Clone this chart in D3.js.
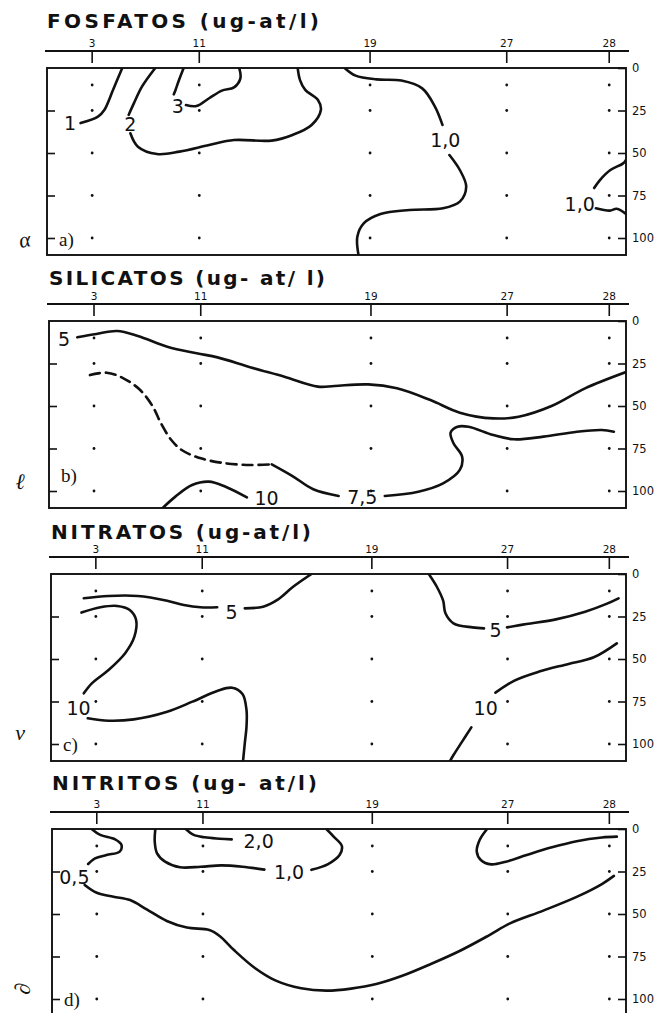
<!DOCTYPE html>
<html>
<head>
<meta charset="utf-8">
<script src="https://cdn.jsdelivr.net/npm/d3@7"></script>
<style>
  body { margin: 0; background: #fff; }
  svg { display: block; }
</style>
</head>
<body>
<svg id="chart" width="657" height="1013"></svg>
<script>
// Stations along the section and their position (relative distance, 0-100)
const stations = ["3", "11", "19", "27", "28"];
const stationDist = [7.8, 26.3, 55.8, 79.4, 97.1];
// Depth axis (m) and sampling depths
const depthTicks = [0, 25, 50, 75, 100];
const sampleDepths = [10, 25, 50, 75, 100];

const titles = ["FOSFATOS (ug-at/l)", "SILICATOS (ug- at/ l)", "NITRATOS (ug-at/l)", "NITRITOS (ug- at/l)"];
const panelTags = ["a)", "b)", "c)", "d)"];
const marginNotes = ["α", "ℓ", "ν", "∂"];

// Isolines: each entry is a list of segments of [distance, depth] points
const fosfatosLines = [
  { dashed: false, segments: [[[13.0, 0], [11.4, 12.9], [9.9, 24.7], [8.8, 28.6], [5.8, 32.4]]] },
  { dashed: false, segments: [
    [[18.7, 0], [16.4, 11], [15.0, 20.8], [14.1, 27.6]],
    [[14.4, 38.4], [15.7, 46.3], [19.0, 50.6], [22.9, 49.2], [28.0, 45.3], [32.3, 42.4], [38.8, 42.7],
     [42.4, 39.4], [45.7, 33.5], [47.3, 24.7], [46.8, 18.8], [44.6, 12.9], [43.7, 7.1], [43.3, 0]]] },
  { dashed: false, segments: [
    [[23.6, 0], [22.8, 7.1], [22.2, 12.9], [21.9, 15.5]],
    [[24.0, 21.8], [25.8, 22.4], [28.0, 17.8], [30.2, 13.3], [32.3, 11.4], [33.4, 6.1], [33.2, 0]]] },
  { dashed: false, segments: [
    [[51.4, 0], [53.3, 4.5], [56.9, 6.7], [61.2, 7.4], [64.8, 12.0], [67.0, 22.7], [68.3, 33.5]],
    [[69.5, 51.2], [71.3, 60.0], [72.4, 69.8], [71.3, 78.6], [68.4, 82.5], [62.6, 83.5], [57.6, 85.9],
     [54.7, 91.4], [53.6, 99.2], [53.8, 110]]] },
  { dashed: false, segments: [
    [[100, 54], [99.5, 56.1], [97.3, 60], [95.5, 65.9], [94.5, 70.6]],
    [[94.8, 82.5], [97.2, 83.9], [98.4, 82.8], [100, 85.9]]] }
];
const fosfatosLabels = [
  { text: "1", at: [4.0, 32.5] },
  { text: "2", at: [14.4, 33.0] },
  { text: "3", at: [22.6, 22.5] },
  { text: "1,0", at: [68.8, 42.4] },
  { text: "1,0", at: [92.0, 80.0] }
];

const silicatosLines = [
  { dashed: false, segments: [[[4.9, 9.6], [8.2, 7.6], [11.8, 5.9], [15.4, 8.8], [20.5, 15.1], [25.6, 19.0],
    [29.2, 21.4], [35.0, 27.3], [40.8, 32.8], [46.6, 38.6], [49.5, 38.2], [55.3, 37.3], [60.3, 39.6],
    [66.1, 46.5], [71.2, 53.9], [77.0, 57.3], [81.4, 56.3], [87.1, 50.0], [92.9, 39.6], [100, 30]]] },
  { dashed: true, segments: [[[7.1, 31.8], [10.0, 30.4], [12.9, 33.7], [15.8, 40.6], [18.0, 50.4], [19.4, 60.2],
    [21.2, 70.0], [23.0, 75.9], [26.3, 80.8], [30.6, 83.7], [35.0, 84.7], [38.6, 84.3]]] },
  { dashed: false, segments: [
    [[38.6, 84.3], [42.2, 91.2], [45.8, 99.0], [50.2, 102.9]],
    [[58.2, 102.9], [64.0, 100.4], [68.3, 95.5], [71.2, 87.6], [71.6, 79.8], [70.1, 71.9], [69.6, 65.7],
     [70.8, 62.2], [72.7, 62.2], [77.0, 67.1], [80.6, 69.6], [85.7, 68.0], [91.5, 65.1], [95.8, 64.1], [97.9, 65.1]]] },
  { dashed: false, segments: [[[19.4, 111], [21.9, 103.3], [24.8, 96.5], [27.7, 94.5], [30.6, 97.5], [34.3, 103.8]]] }
];
const silicatosLabels = [
  { text: "5", at: [2.6, 10.5] },
  { text: "7,5", at: [54.3, 103.7] },
  { text: "10", at: [37.7, 104.0] }
];

const nitratosLines = [
  { dashed: false, segments: [
    [[5.7, 14.3], [10.0, 12.9], [15.1, 12.9], [20.2, 15.7], [23.1, 18.2], [26.0, 19.6], [28.9, 19.6]],
    [[33.7, 20.2], [36.9, 19.2], [39.5, 14.9], [42.0, 7.8], [45.3, 0]]] },
  { dashed: false, segments: [
    [[65.7, 0], [67.1, 7.5], [68.2, 15.7], [68.6, 23.1], [70.0, 29.0], [73.3, 31.4], [75.3, 32.0]],
    [[79.3, 31.4], [82.7, 29.4], [87.8, 26.7], [92.9, 22.2], [96.6, 17.6], [98.7, 14.3]]] },
  { dashed: false, segments: [
    [[5.3, 22.7], [8.6, 19.6], [11.5, 18.8], [13.7, 21.2], [14.8, 27.1], [14.5, 36.9], [12.9, 46.6],
     [10.0, 56.5], [7.1, 64.3], [5.7, 70.2]],
    [[6.4, 84.9], [10.0, 86.3], [14.4, 85.5], [20.2, 81.0], [24.6, 75.1], [28.9, 68.8], [31.5, 66.9],
     [33.3, 70.6], [34.0, 80.0], [34.0, 89.8], [33.7, 99.6], [33.4, 110]]] },
  { dashed: false, segments: [
    [[69.4, 110], [70.0, 106.5], [71.5, 98.6], [73.1, 90.2]],
    [[77.3, 69.8], [80.6, 62.7], [84.9, 57.4], [90.0, 52.9], [94.4, 49.0], [98.4, 40.8]]] }
];
const nitratosLabels = [
  { text: "5", at: [31.4, 22.2] },
  { text: "5", at: [77.3, 32.8] },
  { text: "10", at: [4.8, 79.0] },
  { text: "10", at: [75.6, 79.0] }
];

const nitritosLines = [
  { dashed: false, segments: [
    [[6.9, 0], [8.4, 3.5], [11.0, 6.1], [12.1, 9.4], [11.8, 13.3], [9.5, 15.3], [7.5, 17.3], [6.3, 20.6]],
    [[5.7, 32.9], [7.8, 37.5], [10.7, 39.8], [13.6, 41.8], [16.5, 47.3], [20.0, 54.1], [23.5, 58.0],
     [27.4, 59.4], [29.2, 62.9], [31.7, 71.2], [35.4, 81.9], [39.0, 89.2], [43.4, 93.7], [47.8, 95.1],
     [52.1, 93.9], [56.5, 91.2], [60.9, 86.5], [66.0, 79.4], [71.1, 71.6], [76.2, 62.4], [79.8, 55.5],
     [85.6, 48.0], [91.5, 39.8], [95.8, 32.4], [97.9, 27.6]]] },
  { dashed: false, segments: [
    [[18.0, 0], [17.9, 7.5], [18.3, 14.3], [19.7, 19.2], [22.3, 22.5], [25.9, 22.2], [29.5, 21.4],
     [33.2, 22.2], [37.0, 23.9]],
    [[45.2, 24.0], [48.1, 20.6], [50.1, 15.3], [50.5, 10.0], [49.2, 4.9], [47.8, 0]]] },
  { dashed: false, segments: [[[23.3, 0], [24.6, 3.3], [26.6, 4.9], [29.2, 5.7], [31.3, 6.1]]] },
  { dashed: false, segments: [[[75.8, 0], [74.5, 6.5], [74.0, 13.3], [74.7, 18.2], [76.5, 20.8], [79.1, 19.2],
    [82.7, 15.3], [87.1, 10.8], [91.4, 7.2], [95.8, 5.0], [98.4, 4.5]]] }
];
const nitritosLabels = [
  { text: "0,5", at: [3.9, 28.5] },
  { text: "1,0", at: [41.3, 25.1] },
  { text: "2,0", at: [36.0, 6.8] }
];

const panels = [
  { title: titles[0], tag: panelTags[0], note: marginNotes[0], lines: fosfatosLines, labels: fosfatosLabels },
  { title: titles[1], tag: panelTags[1], note: marginNotes[1], lines: silicatosLines, labels: silicatosLabels },
  { title: titles[2], tag: panelTags[2], note: marginNotes[2], lines: nitratosLines, labels: nitratosLabels },
  { title: titles[3], tag: panelTags[3], note: marginNotes[3], lines: nitritosLines, labels: nitritosLabels }
];

// Page layout of the four stacked sections
const layout = [
  { top: 68,  left: 47, titleY: 28,  titleLen: 272, tagDepth: 101, noteX: 26, noteY: 247, noteRot: -10 },
  { top: 321, left: 49, titleY: 285, titleLen: 276, tagDepth: 91,  noteX: 20, noteY: 489, noteRot: 0 },
  { top: 574, left: 51, titleY: 539, titleLen: 260, tagDepth: 100, noteX: 20, noteY: 740, noteRot: 0 },
  { top: 829, left: 52, titleY: 790, titleLen: 265, tagDepth: 100, noteX: 30, noteY: 990, noteRot: -80 }
];
const RIGHT = 626;
const INK = "#111";

const svg = d3.select("#chart");

panels.forEach((p, i) => {
  const L = layout[i];
  const x = d3.scaleLinear().domain([0, 100]).range([L.left, RIGHT]);
  const y = d3.scaleLinear().domain([0, 110]).range([L.top, L.top + 187]);
  const g = svg.append("g");

  // Title
  g.append("text")
    .attr("x", L.left).attr("y", L.titleY)
    .attr("textLength", L.titleLen).attr("lengthAdjust", "spacing")
    .attr("font-family", "DejaVu Sans, sans-serif").attr("font-weight", "bold")
    .attr("font-size", 20).attr("fill", INK)
    .text(p.title);

  // Station axis on top
  const axisY = L.top - 17;
  g.append("line")
    .attr("x1", L.left - 2).attr("x2", RIGHT + 3)
    .attr("y1", axisY).attr("y2", axisY)
    .attr("stroke", INK).attr("stroke-width", 1.8);
  const st = g.selectAll(".st").data(stations).join("g").attr("class", "st")
    .attr("transform", (d, k) => `translate(${x(stationDist[k])},${axisY})`);
  st.append("line").attr("y1", 0).attr("y2", 12).attr("stroke", INK).attr("stroke-width", 1.6);
  st.append("text").attr("y", -4).attr("text-anchor", "middle")
    .attr("font-family", "DejaVu Sans, sans-serif").attr("font-size", 10.5).attr("fill", INK)
    .text(d => d);

  // Frame
  g.append("rect")
    .attr("x", x(0)).attr("y", y(0))
    .attr("width", x(100) - x(0)).attr("height", y(110) - y(0))
    .attr("fill", "none").attr("stroke", INK).attr("stroke-width", 1.9);

  // Depth axis, labels on the right, ticks pointing inward on both sides
  const rightAxis = g.append("g").attr("transform", `translate(${RIGHT},0)`)
    .call(d3.axisRight(y).tickValues(depthTicks).tickSize(-8).tickPadding(6));
  rightAxis.select(".domain").remove();
  rightAxis.selectAll("line").attr("stroke", INK).attr("stroke-width", 1.6);
  rightAxis.selectAll("text").attr("font-family", "DejaVu Sans, sans-serif")
    .attr("font-size", 11.5).attr("fill", INK);

  const leftAxis = g.append("g").attr("transform", `translate(${L.left},0)`)
    .call(d3.axisLeft(y).tickValues(depthTicks.slice(1)).tickSize(-8).tickFormat(""));
  leftAxis.select(".domain").remove();
  leftAxis.selectAll("line").attr("stroke", INK).attr("stroke-width", 1.6);

  // Sampling points
  const pts = [];
  stationDist.forEach(s => sampleDepths.forEach(dp => pts.push([s, dp])));
  g.selectAll(".pt").data(pts).join("circle").attr("class", "pt")
    .attr("cx", d => x(d[0])).attr("cy", d => y(d[1])).attr("r", 1.4).attr("fill", INK);

  // Isolines clipped to the frame
  const clipId = "clip" + i;
  g.append("clipPath").attr("id", clipId).append("rect")
    .attr("x", x(0)).attr("y", y(0))
    .attr("width", x(100) - x(0)).attr("height", y(110) - y(0));
  const line = d3.line().x(d => x(d[0])).y(d => y(d[1])).curve(d3.curveCatmullRom.alpha(0.5));
  const iso = g.append("g").attr("clip-path", `url(#${clipId})`);
  p.lines.forEach(c => {
    c.segments.forEach(seg => {
      iso.append("path").attr("d", line(seg))
        .attr("fill", "none").attr("stroke", INK).attr("stroke-width", 2.6)
        .attr("stroke-linecap", "round").attr("stroke-linejoin", "round")
        .attr("stroke-dasharray", c.dashed ? "10 6" : null);
    });
  });

  // Isoline values
  g.selectAll(".lbl").data(p.labels).join("text").attr("class", "lbl")
    .attr("x", d => x(d.at[0])).attr("y", d => y(d.at[1]))
    .attr("text-anchor", "middle").attr("dominant-baseline", "central")
    .attr("font-family", "DejaVu Sans, sans-serif").attr("font-size", 19).attr("fill", INK)
    .text(d => d.text);

  // Panel tag
  g.append("text")
    .attr("x", L.left + 12).attr("y", y(L.tagDepth))
    .attr("dominant-baseline", "central")
    .attr("font-family", "Liberation Serif, serif").attr("font-size", 19).attr("fill", INK)
    .text(p.tag);

  // Margin note
  g.append("text")
    .attr("transform", `translate(${L.noteX},${L.noteY}) rotate(${L.noteRot})`)
    .attr("text-anchor", "middle")
    .attr("font-family", "Liberation Serif, serif").attr("font-style", "italic")
    .attr("font-size", 22).attr("fill", INK)
    .text(p.note);
});
</script>
</body>
</html>
